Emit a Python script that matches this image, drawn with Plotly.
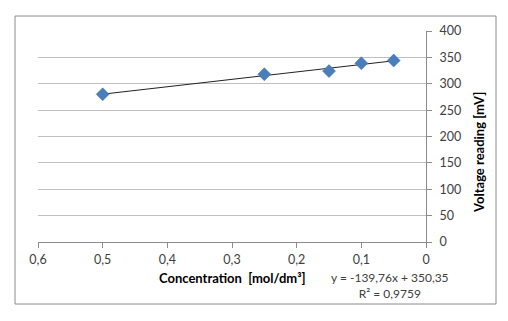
import numpy as np
import plotly.graph_objects as go

concentration = [0.5, 0.25, 0.15, 0.1, 0.05]
voltage = [280, 318, 324, 339, 344]
x_ticks = [0.6, 0.5, 0.4, 0.3, 0.2, 0.1, 0]
x_tick_labels = ["0,6", "0,5", "0,4", "0,3", "0,2", "0,1", "0"]
y_ticks = [0, 50, 100, 150, 200, 250, 300, 350, 400]

slope, intercept = np.polyfit(concentration, voltage, 1)
trend_x = np.array([min(concentration), max(concentration)])
trend_y = slope * trend_x + intercept

FONT = "Lato, Open Sans, sans-serif"
fig = go.Figure()
fig.add_trace(go.Scatter(x=trend_x, y=trend_y, mode="lines",
                         line=dict(color="#222222", width=1), showlegend=False, hoverinfo="skip"))
fig.add_trace(go.Scatter(x=concentration, y=voltage, mode="markers",
                         marker=dict(symbol="diamond", size=10, color="#4a7ebb",
                                     line=dict(color="#3d6ea8", width=0.5)),
                         showlegend=False))

fig.update_layout(
    width=508, height=321,
    margin=dict(l=38, r=82, t=31, b=79),
    paper_bgcolor="white", plot_bgcolor="white",
    font=dict(family=FONT, size=12.5, color="#404040"),
    xaxis=dict(range=[0.6, 0], tickvals=x_ticks, ticktext=x_tick_labels,
               showgrid=False, zeroline=False, showline=True, linecolor="#8c8c8c", linewidth=1,
               ticks="outside", ticklen=5, tickcolor="#8c8c8c", ticklabelstandoff=1,
               tickfont=dict(size=12.5, color="#404040")),
    yaxis=dict(range=[0, 400], tickvals=y_ticks, side="right",
               showgrid=True, gridcolor="#c0c0c0", gridwidth=1,
               zeroline=False, showline=True, linecolor="#8c8c8c", linewidth=1,
               ticks="outside", ticklen=5, tickcolor="#8c8c8c", ticklabelstandoff=5,
               tickfont=dict(size=12.5, color="#404040")),
    shapes=[dict(type="rect", xref="paper", yref="paper",
                 x0=(15 - 38) / 388, x1=(496 - 38) / 388,
                 y0=(242 - 304) / 211, y1=(242 - 16) / 211,
                 line=dict(color="#8c8c8c", width=1), fillcolor="rgba(0,0,0,0)", layer="below")],
    annotations=[
        dict(text="<b>Concentration  [mol/dm³]</b>", xref="paper", yref="paper",
             x=(232 - 38) / 388, y=(242 - 278) / 211, showarrow=False,
             font=dict(size=13, color="#000000", family=FONT), xanchor="center", yanchor="middle"),
        dict(text="<b>Voltage reading [mV]</b>", xref="paper", yref="paper",
             x=(479 - 38) / 388, y=(242 - 153) / 211, showarrow=False, textangle=-90,
             font=dict(size=13, color="#000000", family=FONT), xanchor="center", yanchor="middle"),
        dict(text="y = -139,76x + 350,35<br>R² = 0,9759", xref="paper", yref="paper",
             x=(390 - 38) / 388, y=(242 - 285) / 211, showarrow=False, align="center",
             font=dict(size=12, color="#404040", family=FONT), xanchor="center", yanchor="middle"),
    ],
)
fig.write_html("out.html")
